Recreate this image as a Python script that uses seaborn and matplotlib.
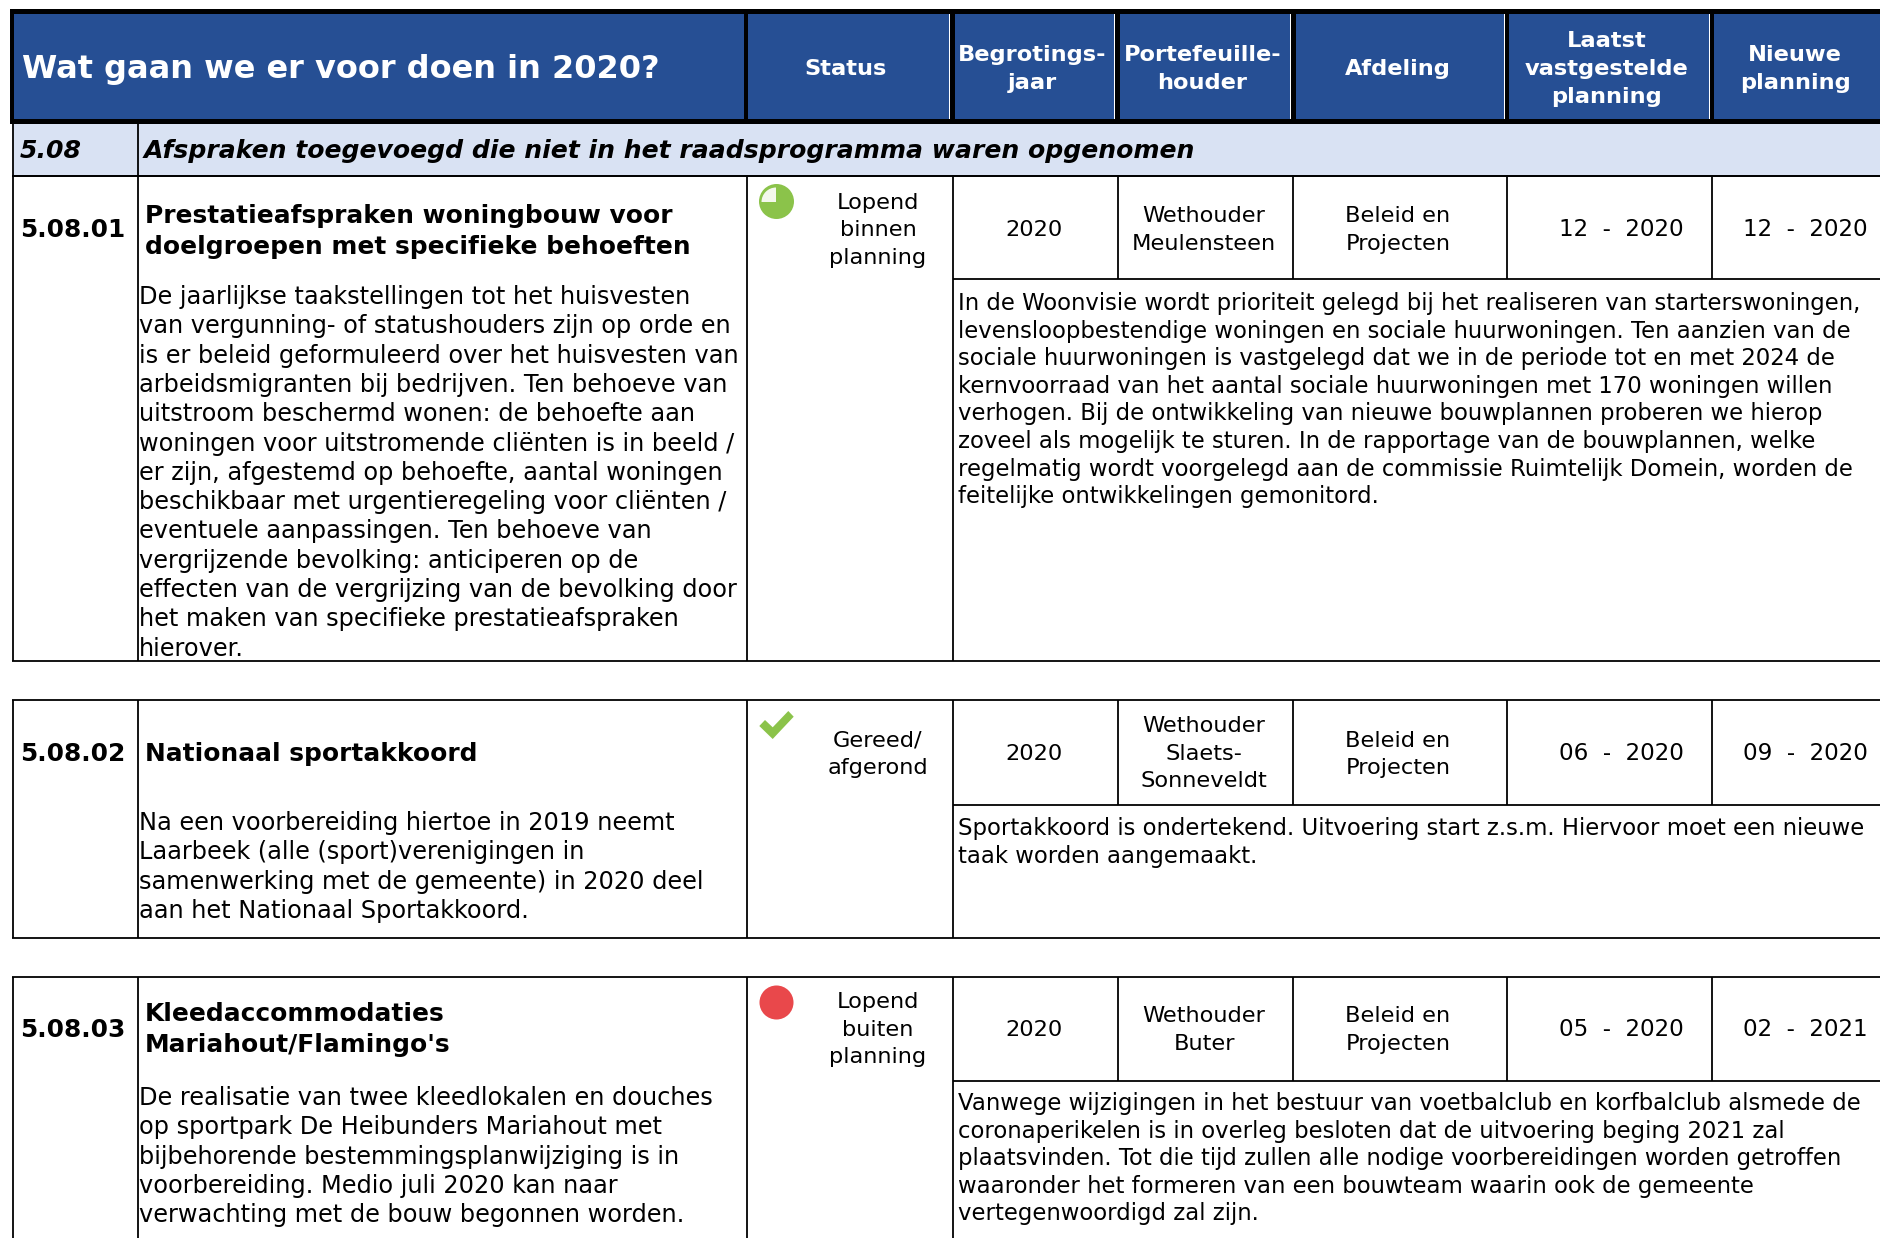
"""Status table: what the municipality plans to do in 2020, redrawn as text and rules."""

import matplotlib
matplotlib.use("Agg")
import matplotlib.pyplot as plt
from matplotlib.patches import Circle, Rectangle, Wedge
import pandas as pd
import seaborn as sns

# ---------- table content ----------
HEADER_TITLE = "Wat gaan we er voor doen in 2020?"
HEADER_LABELS = [
    ["Status"],
    ["Begrotings-", "jaar"],
    ["Portefeuille-", "houder"],
    ["Afdeling"],
    ["Laatst", "vastgestelde", "planning"],
    ["Nieuwe", "planning"],
]
SECTION_ID = "5.08"
SECTION_TITLE = "Afspraken toegevoegd die niet in het raadsprogramma waren opgenomen"

ROW_IDS = ["5.08.01", "5.08.02", "5.08.03"]
ROW_TITLES = [
    ["Prestatieafspraken woningbouw voor", "doelgroepen met specifieke behoeften"],
    ["Nationaal sportakkoord"],
    ["Kleedaccommodaties", "Mariahout/Flamingo's"],
]
ROW_BODIES = [
    ["De jaarlijkse taakstellingen tot het huisvesten",
     "van vergunning- of statushouders zijn op orde en",
     "is er beleid geformuleerd over het huisvesten van",
     "arbeidsmigranten bij bedrijven. Ten behoeve van",
     "uitstroom beschermd wonen: de behoefte aan",
     "woningen voor uitstromende cliënten is in beeld /",
     "er zijn, afgestemd op behoefte, aantal woningen",
     "beschikbaar met urgentieregeling voor cliënten /",
     "eventuele aanpassingen. Ten behoeve van",
     "vergrijzende bevolking: anticiperen op de",
     "effecten van de vergrijzing van de bevolking door",
     "het maken van specifieke prestatieafspraken",
     "hierover."],
    ["Na een voorbereiding hiertoe in 2019 neemt",
     "Laarbeek (alle (sport)verenigingen in",
     "samenwerking met de gemeente) in 2020 deel",
     "aan het Nationaal Sportakkoord."],
    ["De realisatie van twee kleedlokalen en douches",
     "op sportpark De Heibunders Mariahout met",
     "bijbehorende bestemmingsplanwijziging is in",
     "voorbereiding. Medio juli 2020 kan naar",
     "verwachting met de bouw begonnen worden."],
]
ROW_STATUS = [
    ["Lopend", "binnen", "planning"],
    ["Gereed/", "afgerond"],
    ["Lopend", "buiten", "planning"],
]
ROW_YEARS = ["2020", "2020", "2020"]
ROW_HOLDERS = [
    ["Wethouder", "Meulensteen"],
    ["Wethouder", "Slaets-", "Sonneveldt"],
    ["Wethouder", "Buter"],
]
ROW_DEPTS = [["Beleid en", "Projecten"]] * 3
ROW_PLANNED = ["12  -  2020", "06  -  2020", "05  -  2020"]
ROW_NEW = ["12  -  2020", "09  -  2020", "02  -  2021"]
ROW_NOTES = [
    ["In de Woonvisie wordt prioriteit gelegd bij het realiseren van starterswoningen,",
     "levensloopbestendige woningen en sociale huurwoningen. Ten aanzien van de",
     "sociale huurwoningen is vastgelegd dat we in de periode tot en met 2024 de",
     "kernvoorraad van het aantal sociale huurwoningen met 170 woningen willen",
     "verhogen. Bij de ontwikkeling van nieuwe bouwplannen proberen we hierop",
     "zoveel als mogelijk te sturen. In de rapportage van de bouwplannen, welke",
     "regelmatig wordt voorgelegd aan de commissie Ruimtelijk Domein, worden de",
     "feitelijke ontwikkelingen gemonitord."],
    ["Sportakkoord is ondertekend. Uitvoering start z.s.m. Hiervoor moet een nieuwe",
     "taak worden aangemaakt."],
    ["Vanwege wijzigingen in het bestuur van voetbalclub en korfbalclub alsmede de",
     "coronaperikelen is in overleg besloten dat de uitvoering beging 2021 zal",
     "plaatsvinden. Tot die tijd zullen alle nodige voorbereidingen worden getroffen",
     "waaronder het formeren van een bouwteam waarin ook de gemeente",
     "vertegenwoordigd zal zijn."],
]

# ---------- layout, in pixels of the 1881x1238 picture ----------
W, H = 1881, 1238
BLUE = "#264F94"
LAVENDER = "#D9E2F3"
GREEN = "#8BC34A"
RED = "#E9484B"

HEAD_X = [(14, 744), (748, 949), (955, 1114), (1120, 1290), (1296, 1504), (1509, 1709), (1714, 1881)]
COL_ID, COL_MAIN, COL_STATUS, COL_YEAR, COL_HOLDER, COL_DEPT, COL_PLAN, COL_NEW = 12, 138, 747, 953, 1118, 1293, 1507, 1712
COLS_TOP = [COL_HOLDER, COL_DEPT, COL_PLAN, COL_NEW]

ROW_TOP = [176, 700, 977]
ROW_BOTTOM = [661, 938, 1238]
ROW_SPLIT = [279, 805, 1081]

ID_BASE = [237, 761, 1037]
TITLE_BASE = [[223, 254], [761], [1021, 1052]]
BODY_BASE = [304, 830, 1105]
STATUS_BASE = [[209, 236, 264], [747, 774], [1008, 1036, 1063]]
HOLDER_BASE = [[222, 250], [732, 760, 787], [1022, 1050]]
DEPT_BASE = [[222, 250], [747, 774], [1022, 1050]]
NOTE_BASE = [310, 835, 1110]
BODY_STEP = 29.3
NOTE_STEP = 27.6

SIZE_BODY = 17.3
SIZE_NOTE = 16.38
SIZE_CELL = 16.2
SIZE_TITLE = 17.9
SIZE_HEAD = 16.2
SIZE_SECTION = 18.08
SIZE_MAIN = 23.05


def put(ax, x, y, s, size=SIZE_CELL, ha="left", **kw):
    ax.text(x, y, s, fontsize=size, ha=ha, va="baseline", color="black", **kw)


def rule(ax, x0, y0, x1, y1, px=1.8):
    ax.plot([x0, x1], [y0, y1], color="black", lw=px * 0.72, solid_capstyle="butt", zorder=3)


def draw_header(ax):
    ax.add_patch(Rectangle((10, 9), W - 10, 115, color="black", lw=0))
    for k, (x0, x1) in enumerate(HEAD_X):
        ax.add_patch(Rectangle((x0, 14), x1 - x0, 105, color=BLUE, lw=0))
        if k > 0 and x1 < W:
            ax.add_patch(Rectangle((x1, 14), 1.2, 105, color="white", lw=0))
    ax.text(22, 78, HEADER_TITLE, fontsize=SIZE_MAIN, fontweight="bold", color="white", va="baseline")
    bases = {1: [75], 2: [61, 89], 3: [47, 75, 103]}
    for (x0, x1), lines in zip(HEAD_X[1:], HEADER_LABELS):
        for y, s in zip(bases[len(lines)], lines):
            ax.text((x0 + x1) / 2 - 2.5, y, s, fontsize=SIZE_HEAD, fontweight="bold",
                    color="white", ha="center", va="baseline")


def draw_section(ax):
    ax.add_patch(Rectangle((14, 124), W - 14, 52, color=LAVENDER, lw=0))
    rule(ax, 12, 176, W, 176)
    rule(ax, 13, 124, 13, 176)
    rule(ax, COL_MAIN, 124, COL_MAIN, 176)
    put(ax, 20, 158, SECTION_ID, size=SIZE_SECTION, fontweight="bold", fontstyle="italic")
    put(ax, 144, 158, SECTION_TITLE, size=SIZE_SECTION, fontweight="bold", fontstyle="italic")


def draw_row(ax, i):
    top, bottom, split = ROW_TOP[i], ROW_BOTTOM[i], ROW_SPLIT[i]
    rule(ax, COL_ID, top, W, top)
    if bottom < H:
        rule(ax, COL_ID, bottom, W, bottom)
    rule(ax, COL_YEAR, split, W, split)
    for x in [COL_ID + 1, COL_MAIN, COL_STATUS, COL_YEAR]:
        rule(ax, x, top, x, bottom)
    for x in COLS_TOP:
        rule(ax, x, top, x, split)

    put(ax, 20, ID_BASE[i], ROW_IDS[i], size=SIZE_TITLE, fontweight="bold")
    for y, s in zip(TITLE_BASE[i], ROW_TITLES[i]):
        put(ax, 145, y, s, size=SIZE_TITLE, fontweight="bold")
    for k, s in enumerate(ROW_BODIES[i]):
        put(ax, 139, BODY_BASE[i] + k * BODY_STEP, s, size=SIZE_BODY)
    for y, s in zip(STATUS_BASE[i], ROW_STATUS[i]):
        put(ax, 878, y, s, ha="center")
    put(ax, 1034, ID_BASE[i] - 1, ROW_YEARS[i], ha="center")
    for y, s in zip(HOLDER_BASE[i], ROW_HOLDERS[i]):
        put(ax, 1204, y, s, ha="center")
    for y, s in zip(DEPT_BASE[i], ROW_DEPTS[i]):
        put(ax, 1398, y, s, ha="center")
    put(ax, 1621, ID_BASE[i] - 1, ROW_PLANNED[i], ha="center", size=16.6)
    put(ax, 1805.5, ID_BASE[i] - 1, ROW_NEW[i], ha="center", size=16.6)
    for k, s in enumerate(ROW_NOTES[i]):
        put(ax, 958, NOTE_BASE[i] + k * NOTE_STEP, s, size=SIZE_NOTE)


def draw_icons(ax):
    # pie with its top-left quarter open, check mark and red dot
    ax.add_patch(Circle((776.5, 201.5), 17.5, color=GREEN, lw=0))
    ax.add_patch(Wedge((776, 202), 14.5, 180, 270, facecolor="#F4F8EC", lw=0))
    ax.fill([759.3, 765, 772.7, 788.3, 793.7, 772.7], [726, 720, 727.3, 711, 716.7, 739],
            color=GREEN, lw=0)
    dots = pd.DataFrame({"x": [776.3], "y": [1002], "status": ["buiten"]})
    sns.scatterplot(data=dots, x="x", y="y", ax=ax, color=RED, s=600, linewidth=0, legend=False)


def main():
    sns.set_theme(style="white")
    plt.rcParams["font.family"] = ["DejaVu Sans"]

    fig = plt.figure(figsize=(W / 100, H / 100), dpi=100, facecolor="white")
    ax = fig.add_axes([0, 0, 1, 1])

    draw_header(ax)
    draw_section(ax)
    for i in range(len(ROW_IDS)):
        draw_row(ax, i)
    draw_icons(ax)

    ax.set_xlim(0, W)
    ax.set_ylim(H, 0)
    ax.axis("off")

    fig.savefig("out.png", dpi=100)
    plt.close(fig)


if __name__ == "__main__":
    main()
